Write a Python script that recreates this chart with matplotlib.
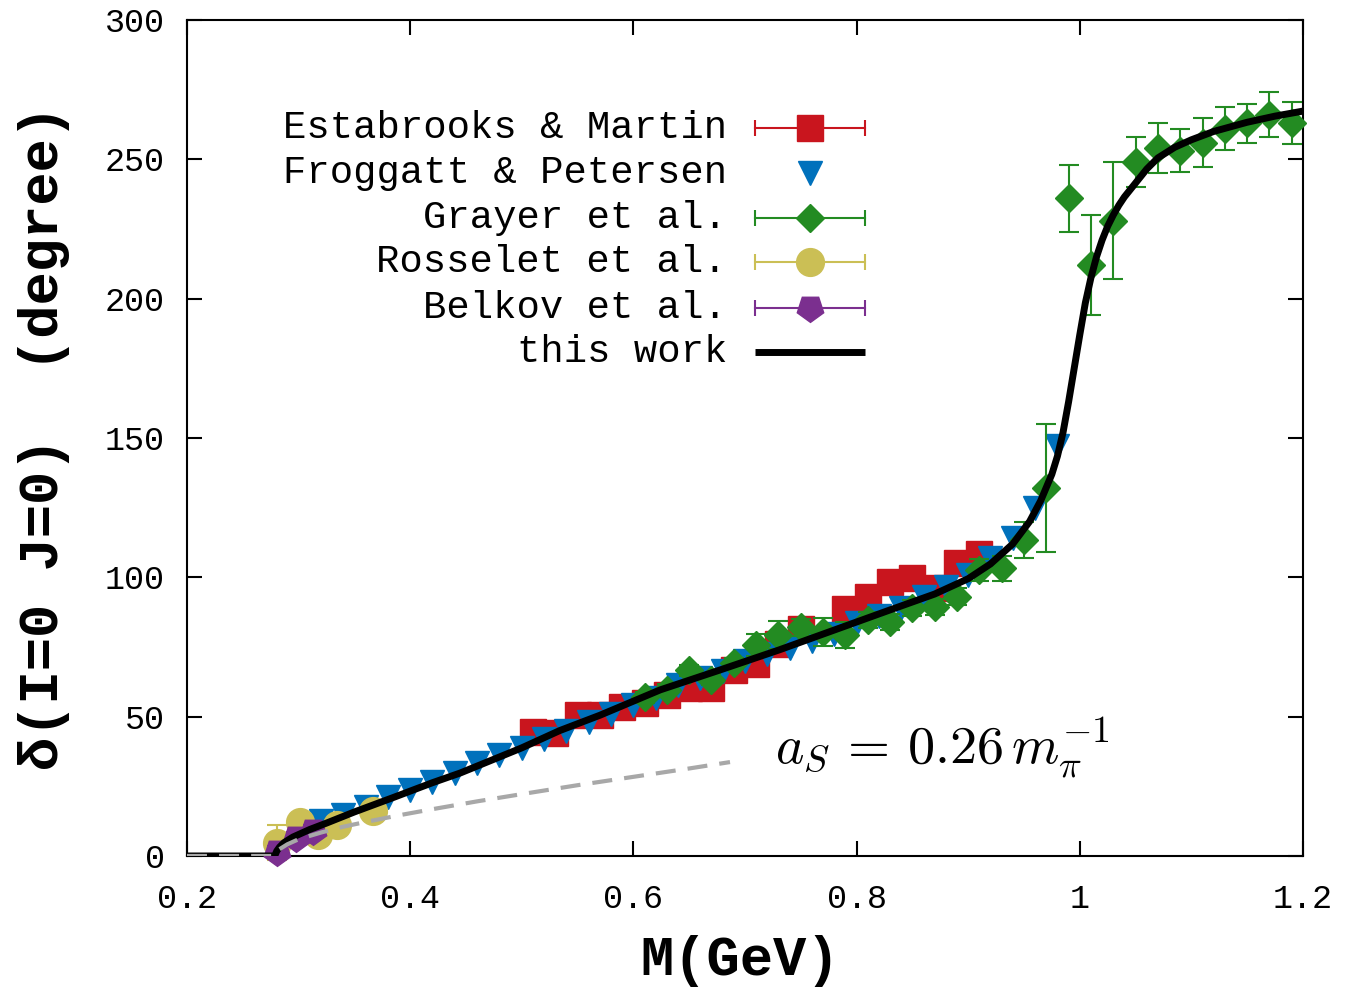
import matplotlib
matplotlib.use("Agg")
import matplotlib.pyplot as plt

# --- data ---
# Estabrooks & Martin (red squares)
em_m = [0.51, 0.53, 0.55, 0.57, 0.59, 0.61, 0.63, 0.65, 0.67, 0.69, 0.71, 0.73, 0.75,
        0.79, 0.81, 0.83, 0.85, 0.87, 0.89, 0.91]
em_d = [44.5, 44.0, 50.6, 50.6, 53.5, 54.9, 57.8, 60.3, 60.3, 66.7, 68.9, 76.0, 81.4,
        88.6, 92.9, 98.3, 99.7, 96.0, 105.0, 108.4]
em_err = [2] * len(em_m)

# Froggatt & Petersen (blue triangles)
fp_m = [0.32, 0.34, 0.36, 0.38, 0.40, 0.42, 0.44, 0.46, 0.48, 0.50, 0.52, 0.54, 0.56,
        0.58, 0.60, 0.62, 0.64, 0.66, 0.68, 0.70, 0.72, 0.74, 0.76, 0.78, 0.80, 0.82,
        0.84, 0.86, 0.88, 0.90, 0.92, 0.94, 0.96, 0.98]
fp_d = [12.5, 14.8, 17.5, 21.0, 23.8, 26.5, 29.8, 33.5, 36.2, 38.8, 42.0, 45.0, 48.0,
        50.8, 54.0, 56.8, 61.5, 64.0, 66.5, 70.0, 72.5, 74.5, 77.0, 79.5, 83.5, 86.0,
        89.0, 93.0, 96.5, 101.0, 107.0, 114.0, 125.0, 147.0]

# Grayer et al. (green diamonds)
gr_m = [0.61, 0.63, 0.65, 0.67, 0.69, 0.71, 0.73, 0.75, 0.77, 0.79, 0.81, 0.83, 0.85,
        0.87, 0.89, 0.91, 0.93, 0.95, 0.97, 0.99, 1.01, 1.03, 1.05, 1.07, 1.09, 1.11,
        1.13, 1.15, 1.17, 1.19]
gr_d = [57.0, 59.6, 66.7, 63.2, 69.2, 75.7, 79.3, 82.0, 80.4, 79.3, 84.7, 84.0, 89.0,
        89.3, 93.0, 102.6, 103.3, 113.4, 132.0, 236.0, 212.0, 228.0, 249.0, 254.0,
        253.0, 256.0, 261.0, 263.0, 266.0, 263.0]
gr_err = [2, 2, 2, 2, 2, 4, 5, 3, 5, 4.5, 3, 3, 3, 3, 3, 4, 4.5, 6.5, 23, 12, 18, 21,
          9, 9, 7.7, 8.8, 7.7, 7, 8, 7.5]

# Rosselet et al. (yellow circles)
ro_m = [0.281, 0.301, 0.317, 0.334, 0.367]
ro_d = [4.7, 12.2, 7.5, 11.1, 16.1]
ro_err = [6.3, 3, 3, 3, 3]

# Belkov et al. (purple pentagons)
be_m = [0.281, 0.298, 0.313]
be_d = [1.5, 6.5, 9.0]
be_err = [2, 2, 2]

# this work (black curve)
cv_m = [0.2, 0.2786, 0.2805, 0.283, 0.287, 0.295, 0.31, 0.325, 0.35, 0.385, 0.42,
        0.445, 0.5, 0.534, 0.57, 0.624, 0.678, 0.731, 0.785, 0.83, 0.87, 0.9, 0.92,
        0.94, 0.955, 0.965, 0.975, 0.98, 0.985, 0.99, 0.995, 1.0, 1.005, 1.01, 1.015,
        1.02, 1.025, 1.03, 1.035, 1.04, 1.048, 1.06, 1.07, 1.085, 1.1, 1.12, 1.15,
        1.175, 1.2]
cv_d = [0, 0, 1.8, 3.2, 4.8, 6.8, 9.5, 11.8, 15.8, 21.0, 26.3, 29.8, 38.8, 45.0, 50.5,
        59.6, 66.8, 74.0, 81.8, 88.3, 94.0, 99.5, 104.8, 112.0, 120.0, 127.5, 137.0,
        143.5, 152.0, 163.0, 175.0, 187.0, 198.5, 207.5, 215.0, 221.0, 226.0, 230.0,
        233.5, 236.5, 240.5, 246.5, 250.5, 254.3, 257.0, 260.0, 263.3, 265.5, 267.3]

# scattering length line a_S = 0.26 / m_pi (grey dashes)
sl_m = [0.2, 0.2786, 0.282, 0.29, 0.3, 0.32, 0.34, 0.36, 0.39, 0.42, 0.46, 0.5, 0.55,
        0.6, 0.65, 0.6866]
sl_d = [0, 0, 2.2, 4.2, 6.0, 8.4, 10.5, 12.2, 14.6, 16.8, 19.6, 22.2, 25.4, 28.4,
        31.4, 33.7]

legend_labels = ["Estabrooks & Martin", "Froggatt & Petersen", "Grayer et al.",
                 "Rosselet et al.", "Belkov et al.", "this work"]

RED = '#c9151e'
BLUE = '#0071bc'
GREEN = '#238b22'
YELLOW = '#cbbf55'
PURPLE = '#7b2f8f'
GREY = '#a8a8a8'

MONO = 'Liberation Mono'
plt.rcParams['mathtext.fontset'] = 'cm'

fig = plt.figure(figsize=(13.48, 9.89), dpi=100)
ax = fig.add_axes([0.1387, 0.1345, 0.8279, 0.8453])

pent = (5, 0, 180)
ekw = dict(ls='none', elinewidth=1.5, capthick=1.5, capsize=7, clip_on=False)

ax.errorbar(em_m, em_d, yerr=em_err, marker='s', ms=19, color=RED, mec=RED, zorder=2, **ekw)
ax.plot(fp_m, fp_d, ls='none', marker='v', ms=17, color=BLUE, zorder=3, clip_on=False)
ax.errorbar(gr_m, gr_d, yerr=gr_err, marker='D', ms=14, color=GREEN, mec=GREEN, zorder=4, **ekw)
ax.errorbar(ro_m, ro_d, yerr=ro_err, marker='o', ms=20, color=YELLOW, mec=YELLOW, zorder=5, **ekw)
ax.errorbar(be_m, be_d, yerr=be_err, marker=pent, ms=20, color=PURPLE, mec=PURPLE, zorder=6, **ekw)
ax.plot(cv_m, cv_d, color='black', lw=5, zorder=8, solid_capstyle='butt',
        solid_joinstyle='round')
ax.plot(sl_m, sl_d, color=GREY, lw=3, dashes=(4.8, 2.9), zorder=9)

ax.text(0.8765, 39, r'$a_S\, =\, 0.26\,m_\pi^{-1}$', fontsize=39, ha='center', va='center')

# legend, drawn by hand in axes fraction
rows = [0.8708, 0.8170, 0.7632, 0.7105, 0.6555, 0.6029]
colors = [RED, BLUE, GREEN, YELLOW, PURPLE, 'black']
markers = ['s', 'v', 'D', 'o', pent, None]
sizes = [19, 17, 14, 20, 20, 0]
for lab, yy, c, mk, s in zip(legend_labels, rows, colors, markers, sizes):
    ax.text(0.4839, yy, lab, transform=ax.transAxes, ha='right', va='center',
            fontsize=28, family=MONO)
    if mk is None:
        ax.plot([0.509, 0.6075], [yy, yy], color=c, lw=5, transform=ax.transAxes,
                solid_capstyle='butt')
        continue
    if mk != 'v':
        ax.plot([0.509, 0.6075], [yy, yy], color=c, lw=1.5, transform=ax.transAxes)
        ax.plot([0.509, 0.6075], [yy, yy], ls='none', marker='|', ms=12, mew=1.5,
                color=c, transform=ax.transAxes)
    ax.plot([0.5582], [yy], ls='none', marker=mk, ms=s, color=c, mec=c,
            transform=ax.transAxes)

ax.set_xlim(0.2, 1.2)
ax.set_ylim(0, 300)
ax.set_xticks([0.2, 0.4, 0.6, 0.8, 1.0, 1.2])
ax.set_xticklabels(['0.2', '0.4', '0.6', '0.8', '1', '1.2'])
ax.set_yticks([0, 50, 100, 150, 200, 250, 300])

ax.tick_params(direction='in', top=True, right=True, length=11, width=1.5,
               labelsize=24)
ax.tick_params(axis='x', pad=20)
ax.tick_params(axis='y', pad=16)
for lab in ax.get_xticklabels() + ax.get_yticklabels():
    lab.set_family(MONO)
for sp in ax.spines.values():
    sp.set_linewidth(1.5)

ax.set_xlabel('M(GeV)', fontsize=40, family=MONO, fontweight='bold', va='center')
ax.set_ylabel('δ(I=0 J=0)  (degree)', fontsize=40, family=MONO, fontweight='bold')
ax.xaxis.set_label_coords(0.4955, -0.125)
ax.yaxis.set_label_coords(-0.105, 0.501)

fig.savefig('out.png', dpi=100)
